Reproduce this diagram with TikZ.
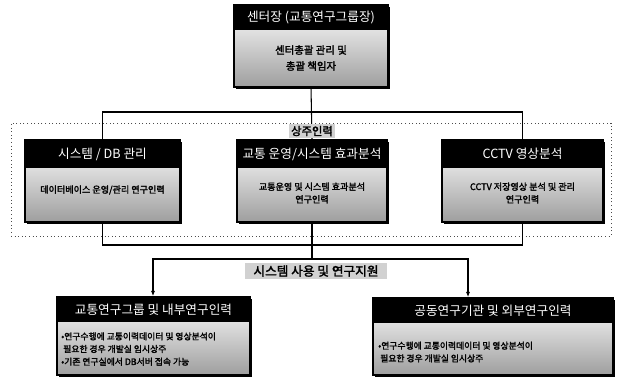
\documentclass[tikz,border=0pt]{standalone}
\usepackage{fontspec}
\setmainfont{Noto Sans CJK KR}[AutoFakeBold=2]
\usetikzlibrary{fit,shadows,arrows.meta}
\begin{document}
\begin{tikzpicture}[x=0.75pt,y=-0.75pt,
  frame/.style={draw=black, line width=1.1pt, top color=white, bottom color=black!38, inner sep=0pt,
    drop shadow={shadow xshift=1.2pt, shadow yshift=-1.2pt, fill=black, opacity=1}},
  hdr/.style={fill=black, text=white, inner sep=0pt},
  htxt/.style={text=white, font=\fontsize{9.5}{10}\selectfont},
  btxt/.style={inner sep=0pt, align=center, font=\fontsize{6.8}{9.5}\selectfont\bfseries},
  ltxt/.style={inner sep=0pt, align=left, font=\fontsize{6.6}{9.5}\selectfont\bfseries},
  conn/.style={draw=black, line width=0.8pt},
  arr/.style={conn, -{Latex[length=4pt,width=3pt]}},
  lbl/.style={fill=black!18, inner sep=1.5pt, font=\fontsize{8.5}{9}\selectfont\bfseries},
  zone/.style={draw=black!70, line width=0.7pt, dotted}
]
\useasboundingbox (0,0) rectangle (617,382);

% dotted zone
\node[zone, fit={(11,123)(611,236)}, inner sep=0pt] (zone) {};

% top box
\node[frame, fit={(234,5)(388,87)}] (top) {};
\node[hdr, fit={(234,5)(388,30)}] (toph) {};
\node[htxt] at (toph.center) {센터장 (교통연구그룹장)};
\node[btxt, font=\fontsize{7.8}{12}\selectfont\bfseries] (topb) at (311,58) {센터총괄 관리 및\\총괄 책임자};

% middle row
\node[frame, fit={(25,140)(180,222)}] (sys) {};
\node[hdr, fit={(25,140)(180,168)}] (sysh) {};
\node[htxt] at (sysh.center) {시스템 / DB 관리};
\node[btxt] (sysb) at (102.5,190) {데이터베이스 운영/관리 연구인력};

\node[frame, fit={(237,140)(387,222)}] (ops) {};
\node[hdr, fit={(237,140)(387,168)}] (opsh) {};
\node[htxt] at (opsh.center) {교통 운영/시스템 효과분석};
\node[btxt] (opsb) at (312,193) {교통운영 및 시스템 효과분석\\연구인력};

\node[frame, fit={(442,140)(603,222)}] (cctv) {};
\node[hdr, fit={(442,140)(603,168)}] (cctvh) {};
\node[htxt] at (cctvh.center) {CCTV 영상분석};
\node[btxt] (cctvb) at (522.5,193) {CCTV 저장영상 분석 및 관리\\연구인력};

% bottom row
\node[frame, fit={(57,297)(250,375)}] (inr) {};
\node[hdr, fit={(57,297)(250,322)}] (inrh) {};
\node[htxt] at (inrh.center) {교통연구그룹 및 내부연구인력};
\node[ltxt, anchor=west] (inrb) at (61,349) {•연구수행에 교통이력데이터 및 영상분석이\\\ 필요한 경우 개발실 임시상주\\•기존 연구실에서 DB서버 접속 가능};

\node[frame, fit={(373,298)(613,375)}] (ext) {};
\node[hdr, fit={(373,298)(613,323)}] (exth) {};
\node[htxt] at (exth.center) {공동연구기관 및 외부연구인력};
\node[ltxt, anchor=west] (extb) at (378,352) {•연구수행에 교통이력데이터 및 영상분석이\\\ 필요한 경우 개발실 임시상주};

% connectors top
\coordinate (t1) at (311,112);
\draw[conn] (top.south) -- (ops.north);
\draw[conn] (sys.north) |- (t1) -| (cctv.north);

% connectors bottom of middle row
\coordinate (b1) at (312,245);
\draw[conn] (sys.south) |- (b1) -| (cctv.south);
\coordinate (b2) at (312,259);
\draw[conn] (ops.south) -- (b2);
\coordinate (bl) at (153,259);
\coordinate (br) at (468,259);
\draw[arr] (b2) -- (bl) -- (bl |- inr.north);
\draw[arr] (b2) -- (br) -- (br |- ext.north);

% labels
\node[lbl] (res) at (312,131) {상주인력};
\node[lbl, font=\fontsize{9.5}{10}\selectfont\bfseries, inner xsep=6pt] (sup) at (316,271) {시스템 사용 및 연구지원};
\end{tikzpicture}
\end{document}
